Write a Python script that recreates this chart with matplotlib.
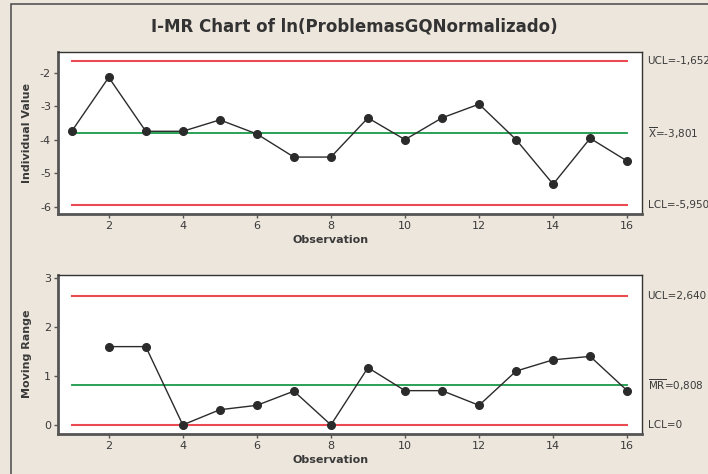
import numpy as np
import matplotlib.pyplot as plt
from matplotlib.patches import Rectangle

plt.rcParams['axes.unicode_minus'] = False

######
# I-MR chart data
######
obs = np.arange(1, 17)
ind_values = [-3.74, -2.13, -3.74, -3.74, -3.40, -3.82, -4.51, -4.51,
              -3.34, -3.99, -3.34, -2.93, -3.99, -5.32, -3.95, -4.63]
mr_obs = np.arange(2, 17)
mr_values = [1.60, 1.60, 0.0, 0.31, 0.40, 0.69, 0.0, 1.17,
             0.70, 0.70, 0.40, 1.10, 1.33, 1.40, 0.70]

i_ucl, i_center, i_lcl = -1.652, -3.801, -5.950
mr_ucl, mr_center, mr_lcl = 2.640, 0.808, 0.0

i_labels = ['UCL=-1,652', r'$\overline{\mathrm{X}}$=-3,801', 'LCL=-5,950']
mr_labels = ['UCL=2,640', r'$\overline{\mathrm{MR}}$=0,808', 'LCL=0']

bg = '#ece6dc'
red = '#ec4a52'
green = '#1a9a4a'
dark = '#2b2b2b'
txt = '#3a3a3a'

fig = plt.figure(figsize=(7.08, 4.74), dpi=100, facecolor=bg)
fig.patches.append(Rectangle((11/708, -0.1), 1.2, 1 - 4/474 + 0.1,
                             transform=fig.transFigure, fill=False,
                             edgecolor='#555555', linewidth=1.2))

fig.text(0.5, 1 - 27/474, 'I-MR Chart of ln(ProblemasGQNormalizado)',
         ha='center', va='center', fontsize=12, fontweight='bold', color='#333333')

ax1 = fig.add_axes([58/708, 1 - 214/474, 584/708, 162/474])
ax2 = fig.add_axes([58/708, 1 - 433.7/474, 584/708, 159/474])


def style(ax, xlab_y):
    ax.set_facecolor('white')
    for side in ['top', 'right']:
        ax.spines[side].set_color('#333333')
        ax.spines[side].set_linewidth(1.0)
    for side in ['left', 'bottom']:
        ax.spines[side].set_color('#555555')
        ax.spines[side].set_linewidth(2.0)
    ax.tick_params(direction='out', length=3, width=1, colors='#555555',
                   labelcolor=txt, labelsize=8, pad=2)
    ax.set_xlim(0.63, 16.4)
    ax.set_xticks(range(2, 17, 2))
    ax.set_xlabel('Observation', fontsize=8, fontweight='bold', color=txt)
    ax.xaxis.set_label_coords(0.467, xlab_y)


def limits(ax, ucl, cl, lcl, labels):
    ax.plot([1, 16], [ucl, ucl], color=red, lw=1.5)
    ax.plot([1, 16], [cl, cl], color=green, lw=1.3)
    ax.plot([1, 16], [lcl, lcl], color=red, lw=1.5)
    for val, lab in zip([ucl, cl, lcl], labels):
        ax.annotate(lab, xy=(1, val), xycoords=('axes fraction', 'data'),
                    xytext=(4, 0), textcoords='offset points',
                    ha='left', va='center', fontsize=7.5, color=txt,
                    annotation_clip=False)


# Individual values
style(ax1, -0.13)
limits(ax1, i_ucl, i_center, i_lcl, i_labels)
ax1.plot(obs, ind_values, color=dark, lw=1, marker='o', markersize=5.5, zorder=3)
ax1.set_ylim(-6.21, -1.373)
ax1.set_yticks([-6, -5, -4, -3, -2])
ax1.set_ylabel('Individual Value', fontsize=8, fontweight='bold', color=txt)
ax1.yaxis.set_label_coords(-0.045, 0.5)

# Moving range
style(ax2, -0.137)
limits(ax2, mr_ucl, mr_center, mr_lcl, mr_labels)
ax2.plot(mr_obs, mr_values, color=dark, lw=1, marker='o', markersize=5.5, zorder=3)
ax2.set_ylim(-0.18, 3.07)
ax2.set_yticks([0, 1, 2, 3])
ax2.set_ylabel('Moving Range', fontsize=8, fontweight='bold', color=txt)
ax2.yaxis.set_label_coords(-0.045, 0.5)

fig.savefig('out.png', dpi=100, facecolor=bg)
